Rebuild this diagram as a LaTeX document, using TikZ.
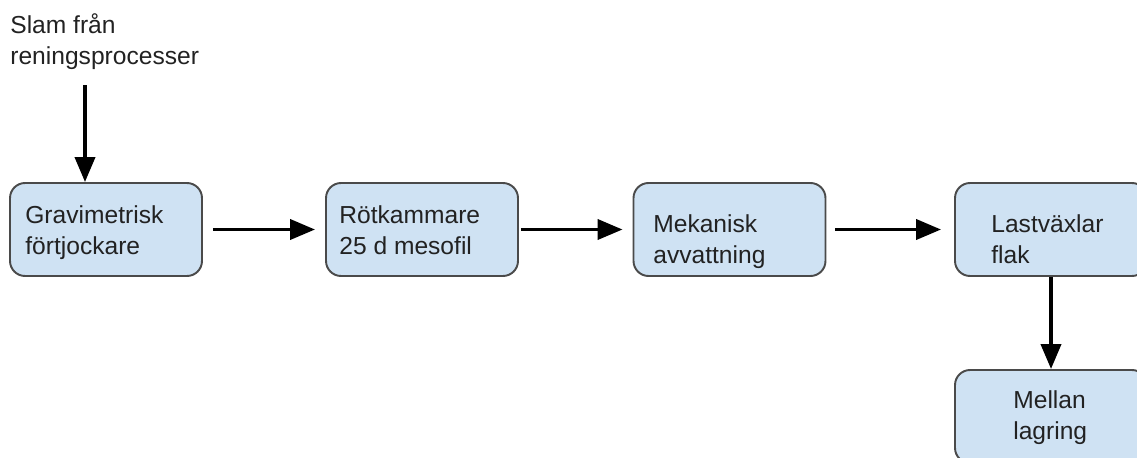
\documentclass[tikz,border=0pt]{standalone}
\usepackage{fontspec}
\setmainfont{Liberation Sans}
\usetikzlibrary{arrows.meta}

\definecolor{boxblue}{HTML}{CFE2F3}
\definecolor{boxline}{HTML}{4A4A4A}
\definecolor{txtgray}{HTML}{222222}

\begin{document}
\begin{tikzpicture}[x=0.02cm, y=-0.02cm]

\tikzset{box/.style = {shape=rectangle, rounded corners=0.3cm, draw=boxline, fill=boxblue, line width=1.1pt, minimum width=3.84cm, minimum height=1.86cm}}
\tikzset{txt/.style = {inner sep=0pt, align=left, text=txtgray, font=\fontsize{14pt}{17.6pt}\selectfont}}
\tikzset{flow/.style = {-{Triangle[length=0.5cm, width=0.4cm]}, line width=2.2pt}}

\useasboundingbox (0,0) rectangle (1137,457);
\clip (0,0) rectangle (1137,457);

%boxes
\node[box] (grav) at (106,229.5) {};
\node[box] (rot) at (422,229.5) {};
\node[box] (meka) at (729.5,229.5) {};
\node[box] (flak) at (1051,229.5) {};
\node[box] (mell) at (1051,416.5) {};
%texts (base = last line)
\node[txt, anchor=base west] (slam) at (10,64) {Slam från\\reningsprocesser};
\node[txt, anchor=base west] (gravt) at (25,254) {Gravimetrisk\\förtjockare};
\node[txt, anchor=base west] (rott) at (339,254) {Rötkammare\\25 d mesofil};
\node[txt, anchor=base west] (mekat) at (653,263) {Mekanisk\\avvattning};
\node[txt, anchor=base west] (flakt) at (991,263) {Lastväxlar\\flak};
\node[txt, anchor=base west] (mellt) at (1013,439) {Mellan\\lagring};
\coordinate (in) at (85,85);
%edges
\draw[flow] (in) -- (in |- grav.north);
\draw[flow, shorten <=0.2cm, shorten >=0.2cm] (grav) -- (rot);
\draw[flow, shorten <=0.04cm, shorten >=0.2cm] (rot) -- (meka);
\draw[flow, shorten <=0.18cm, shorten >=0.26cm] (meka) -- (flak);
\draw[flow] (flak.south) -- (mell.north);

\end{tikzpicture}
\end{document}
